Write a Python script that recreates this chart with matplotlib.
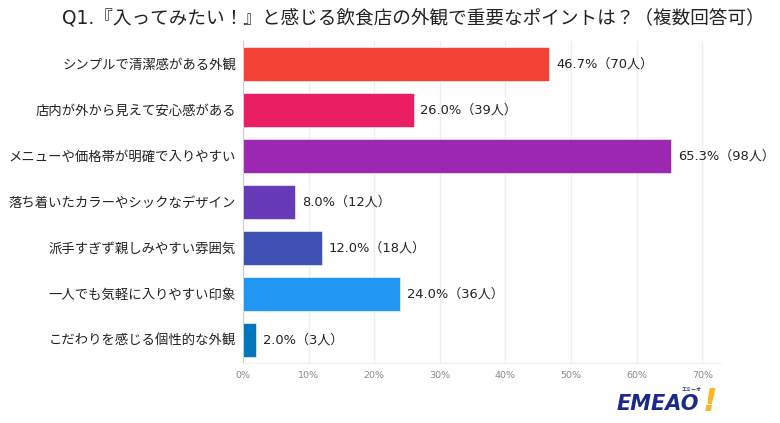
"""Recreate the horizontal bar chart of restaurant exterior survey results."""
import matplotlib

matplotlib.use("Agg")

import matplotlib.pyplot as plt

plt.rcParams["font.family"] = ["DejaVu Sans", "Noto Sans CJK JP"]

TITLE = "Q1.『入ってみたい！』と感じる飲食店の外観で重要なポイントは？（複数回答可）"
categories = [
    "シンプルで清潔感がある外観",
    "店内が外から見えて安心感がある",
    "メニューや価格帯が明確で入りやすい",
    "落ち着いたカラーやシックなデザイン",
    "派手すぎず親しみやすい雰囲気",
    "一人でも気軽に入りやすい印象",
    "こだわりを感じる個性的な外観",
]
percents = [46.7, 26.0, 65.3, 8.0, 12.0, 24.0, 2.0]
people = [70, 39, 98, 12, 18, 36, 3]
colors = ["#f44336", "#e91e63", "#9c27b0", "#673ab7", "#3f51b5", "#2196f3", "#0277bd"]
ticks = [0, 10, 20, 30, 40, 50, 60, 70]

W, H = 780, 423
fig = plt.figure(figsize=(W / 100, H / 100), dpi=100)
ax = fig.add_axes([243 / W, 1 - 363 / H, (720 - 243) / W, (363 - 41) / H])

pos = list(range(len(categories)))
ax.barh(pos, percents, height=0.72, color=colors, edgecolor="#ffffff", linewidth=0.4, zorder=3)
for y, pct, n in zip(pos, percents, people):
    ax.text(pct + 1.0, y, f"{pct:.1f}%（{n}人）", va="center", ha="left",
            fontsize=9.4, color="#222222", zorder=4)

ax.set_xlim(0, 72.7)
ax.set_ylim(len(categories) - 0.5, -0.5)
ax.set_yticks(pos, categories, fontsize=9.6, color="#222222")
ax.set_xticks(ticks, [f"{t}%" for t in ticks], fontsize=6.8, color="#888888")
ax.tick_params(axis="both", length=0)
ax.tick_params(axis="y", pad=5)
ax.tick_params(axis="x", pad=6)
ax.grid(axis="x", color="#eeeeee", linewidth=0.9, zorder=0)
for side in ("top", "right"):
    ax.spines[side].set_visible(False)
ax.spines["left"].set_color("#cccccc")
ax.spines["bottom"].set_color("#eeeeee")

fig.text(413 / W, 1 - 18 / H, TITLE, ha="center", va="center", fontsize=13.4, color="#222222")

# logo
fig.text(617 / W, 1 - 404 / H, "EMEAO", ha="left", va="center", fontsize=15,
         fontweight="bold", style="italic", color="#1a2a8c")
fig.text(710 / W, 1 - 402 / H, "!", ha="center", va="center", fontsize=23,
         fontweight="bold", style="italic", color="#f9b722")
fig.text(692 / W, 1 - 389 / H, "エミーオ", ha="center", va="center", fontsize=3.6,
         fontweight="bold", color="#1a2a8c")

fig.savefig("out.png", dpi=100)
plt.close(fig)
